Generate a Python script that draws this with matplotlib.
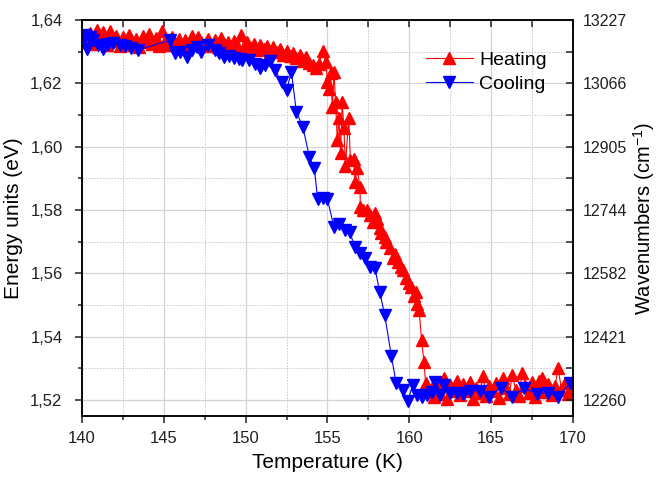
import matplotlib
matplotlib.use("Agg")
import matplotlib.pyplot as plt
from matplotlib.ticker import MultipleLocator, FuncFormatter, FixedLocator

plt.rcParams['font.family'] = ['Liberation Sans', 'DejaVu Sans']
plt.rcParams['mathtext.fontset'] = 'custom'
plt.rcParams['mathtext.rm'] = 'Liberation Sans'
plt.rcParams['mathtext.it'] = 'Liberation Sans'

# Heating run: temperature (K) and emission energy (eV)
heat_T = [
    140.1, 140.3, 140.5, 140.7, 140.9, 141.1, 141.3, 141.5, 141.7, 141.9,
    142.1, 142.3, 142.5, 142.7, 142.9, 143.1, 143.3, 143.5, 143.7, 143.9,
    144.1, 144.3, 144.5, 144.7, 144.9, 145.1, 145.3, 145.5, 145.7, 145.9,
    146.1, 146.3, 146.5, 146.7, 146.9, 147.1, 147.3, 147.5, 147.7, 147.9,
    148.1, 148.3, 148.5, 148.7, 148.9, 149.1, 149.3, 149.5, 149.7, 149.9,
    150.1, 150.3, 150.5, 150.7, 150.9, 151.1, 151.3, 151.5, 151.7, 151.9,
    152.1, 152.3, 152.5, 152.7, 152.9, 153.1, 153.3, 153.5, 153.7, 153.9,
    154.1, 154.3, 154.5, 154.7, 154.9,
    155.0, 155.1, 155.2, 155.3, 155.4, 155.5, 155.6, 155.7, 155.8, 155.9,
    156.0, 156.1, 156.3, 156.4, 156.6, 156.7, 156.8, 157.0, 157.0, 157.2,
    157.4, 157.6, 157.8, 157.9, 158.0, 158.2, 158.3, 158.5, 158.6, 158.8,
    159.0, 159.1, 159.3, 159.5, 159.6, 159.8, 160.0, 160.1, 160.3, 160.4,
    160.5, 160.6, 160.75, 160.9, 161.0, 161.2,
    161.4, 161.5, 161.7, 161.9, 162.1, 162.3, 162.5, 162.7, 162.9, 163.1,
    163.3, 163.5, 163.7, 163.9, 164.1, 164.3, 164.5, 164.7, 164.9, 165.1,
    165.3, 165.5, 165.7, 165.9, 166.1, 166.3, 166.5, 166.7, 166.9, 167.1,
    167.3, 167.5, 167.7, 167.9, 168.1, 168.3, 168.5, 168.7, 168.9, 169.1,
    169.3, 169.5, 169.7, 169.9,
]
heat_E = [
    1.6345, 1.6330, 1.6360, 1.6325, 1.6368, 1.6338, 1.6362, 1.6320, 1.6365, 1.6335,
    1.6350, 1.6318, 1.6345, 1.6328, 1.6352, 1.6322, 1.6340, 1.6315, 1.6348, 1.6330,
    1.6355, 1.6325, 1.6342, 1.6318, 1.6365, 1.6335, 1.6320, 1.6345, 1.6322, 1.6340,
    1.6318, 1.6338, 1.6325, 1.6350, 1.6320, 1.6345, 1.6330, 1.6318, 1.6340, 1.6322,
    1.6338, 1.6315, 1.6342, 1.6325, 1.6330, 1.6318, 1.6335, 1.6322, 1.6352, 1.6315,
    1.6330, 1.6312, 1.6325, 1.6305, 1.6322, 1.6310, 1.6318, 1.6300, 1.6315, 1.6298,
    1.6310, 1.6290, 1.6302, 1.6285, 1.6295, 1.6280, 1.6290, 1.6272, 1.6282, 1.6265,
    1.6258, 1.6248, 1.6262, 1.6302, 1.6268,
    1.6205, 1.6182, 1.6233, 1.6125, 1.6236, 1.6140, 1.6020, 1.6090, 1.5980, 1.6140,
    1.6060, 1.5940, 1.6090, 1.5958, 1.5960, 1.5888, 1.5932, 1.5872, 1.5810, 1.5800,
    1.5800, 1.5785, 1.5762, 1.5790, 1.5772, 1.5745, 1.5727, 1.5715, 1.5700, 1.5680,
    1.5650, 1.5660, 1.5635, 1.5620, 1.5610, 1.5585, 1.5570, 1.5556, 1.5530, 1.5540,
    1.5505, 1.5484, 1.5390, 1.5320, 1.5253, 1.5225,
    1.5240, 1.5210, 1.5255, 1.5220, 1.5270, 1.5205, 1.5248, 1.5228, 1.5262, 1.5215,
    1.5250, 1.5230, 1.5258, 1.5205, 1.5240, 1.5222, 1.5275, 1.5212, 1.5245, 1.5228,
    1.5255, 1.5208, 1.5270, 1.5240, 1.5218, 1.5280, 1.5232, 1.5212, 1.5285, 1.5245,
    1.5222, 1.5258, 1.5210, 1.5262, 1.5270, 1.5225, 1.5250, 1.5215, 1.5245, 1.5300,
    1.5232, 1.5255, 1.5218, 1.5240,
]

# Cooling run
cool_T = [
    140.1, 140.2, 140.3, 140.5, 140.7, 141.0, 141.3, 141.6, 141.9, 142.3,
    142.65, 143.0, 143.4, 145.4, 145.7, 146.0, 146.4, 146.7, 147.0, 147.3,
    147.7, 148.1, 148.4, 148.7, 149.0, 149.3, 149.6, 149.8, 150.2, 150.6,
    150.9, 151.2, 151.5, 151.8, 152.2, 152.5, 152.8, 153.1, 153.5, 153.9,
    154.2, 154.4, 154.7, 155.0, 155.4, 155.7, 156.1, 156.35, 156.7, 157.0,
    157.3, 157.6, 157.9, 158.2, 158.5, 158.9, 159.2, 159.6, 159.9, 160.2,
    160.5, 160.8, 161.1, 161.4, 161.6, 161.9, 162.1, 162.5, 162.9, 163.3,
    163.7, 164.3, 164.9, 165.6, 166.3, 167.0, 167.8, 168.5, 169.1, 169.8,
]
cool_E = [
    1.6340, 1.6353, 1.6310, 1.6345, 1.6337, 1.6320, 1.6310, 1.6325, 1.6327, 1.6322,
    1.6318, 1.6312, 1.6305, 1.6337, 1.6296, 1.6300, 1.6283, 1.6305, 1.6315, 1.6300,
    1.6320, 1.6305, 1.6295, 1.6283, 1.6285, 1.6280, 1.6278, 1.6274, 1.6274, 1.6262,
    1.6248, 1.6258, 1.6270, 1.6242, 1.6204, 1.6179, 1.6236, 1.6110, 1.6062, 1.5967,
    1.5932, 1.5834, 1.5837, 1.5834, 1.5746, 1.5755, 1.5736, 1.5730, 1.5683, 1.5664,
    1.5648, 1.5620, 1.5617, 1.5540, 1.5468, 1.5341, 1.5253, 1.5231, 1.5196, 1.5247,
    1.5215, 1.5209, 1.5215, 1.5225, 1.5256, 1.5215, 1.5247, 1.5222, 1.5224, 1.5218,
    1.5230, 1.5230, 1.5210, 1.5240, 1.5210, 1.5237, 1.5221, 1.5224, 1.5210, 1.5253,
]

EV_TO_CM = 8065.54
y_ticks = [1.52, 1.54, 1.56, 1.58, 1.60, 1.62, 1.64]

fig = plt.figure(figsize=(6.59, 4.79), dpi=100)
ax = fig.add_axes([0.1244, 0.1315, 0.745, 0.8267])

ax.plot(heat_T, heat_E, color='red', lw=0.8, marker='^', ms=8.5,
        mec='red', mfc='red', label='Heating', zorder=3)
ax.plot(cool_T, cool_E, color='blue', lw=0.8, marker='v', ms=8.5,
        mec='blue', mfc='blue', label='Cooling', zorder=4)

ax.set_xlim(140, 170)
ax.set_ylim(1.515, 1.64)
ax.xaxis.set_major_locator(MultipleLocator(5))
ax.xaxis.set_minor_locator(MultipleLocator(2.5))
ax.yaxis.set_major_locator(FixedLocator(y_ticks))
ax.yaxis.set_minor_locator(MultipleLocator(0.01))
ax.yaxis.set_major_formatter(FuncFormatter(lambda v, p: f"{v:.2f}".replace('.', ',')))

ax.grid(which='major', color='#d4d4d4', lw=0.9, ls='-')
ax.grid(which='minor', color='#c8c8c8', lw=0.7, ls=(0, (1.5, 1.5)))
ax.set_axisbelow(True)

ax.tick_params(which='both', direction='out', labelsize=12, width=1.1,
               top=True, right=False, colors='#202020')
ax.tick_params(axis='y', which='both', pad=9)
ax.tick_params(axis='x', which='both', pad=6)
ax.tick_params(which='major', length=5)
ax.tick_params(which='minor', length=3)
# top ticks point inwards
for t in ax.xaxis.get_major_ticks() + ax.xaxis.get_minor_ticks():
    t.tick2line.set_marker(matplotlib.lines.TICKDOWN)
    t.tick2line.set_markersize(5)
for s in ax.spines.values():
    s.set_linewidth(1.1)

ax.set_xlabel('Temperature (K)', fontsize=15, labelpad=5)
ax.set_ylabel('Energy units (eV)', fontsize=15, labelpad=5)

# wavenumber scale on the right
ax2 = ax.twinx()
ax2.set_ylim(ax.get_ylim())
ax2.yaxis.set_major_locator(FixedLocator(y_ticks))
ax2.yaxis.set_minor_locator(MultipleLocator(0.01))
ax2.yaxis.set_major_formatter(FuncFormatter(lambda v, p: f"{round(v * EV_TO_CM)}"))
ax2.tick_params(which='both', direction='in', labelsize=11.5, width=1.1, pad=7,
                colors='#202020')
ax2.tick_params(which='major', length=5)
ax2.tick_params(which='minor', length=5)
ax2.set_ylabel('Wavenumbers (cm$^{-1}$)', fontsize=14.5, labelpad=3)
for s in ax2.spines.values():
    s.set_linewidth(1.1)

ax.legend(loc='upper right', bbox_to_anchor=(0.975, 0.955), frameon=False,
          fontsize=14, handlelength=2.4, handletextpad=0.35, labelspacing=0.3,
          borderpad=0.2)

fig.savefig('out.png', dpi=100)
